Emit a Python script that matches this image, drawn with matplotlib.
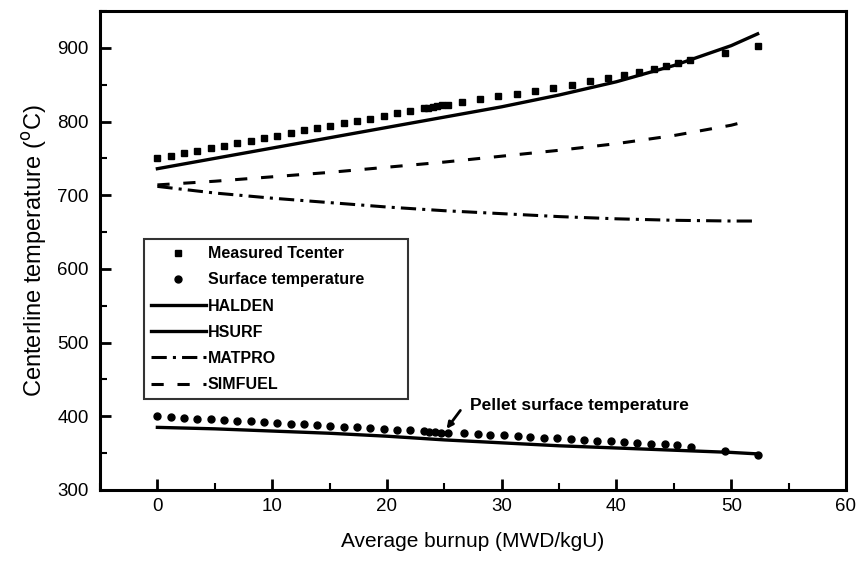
import matplotlib
matplotlib.use("Agg")
import matplotlib.pyplot as plt
from matplotlib.ticker import MultipleLocator

plt.rcParams['font.family'] = ['Liberation Sans', 'DejaVu Sans']

# Measured centerline temperature (squares)
meas_x = [0, 1.16, 2.32, 3.48, 4.64, 5.8, 6.96, 8.12, 9.28, 10.44, 11.6, 12.76,
          13.92, 15.08, 16.24, 17.4, 18.56, 19.72, 20.88, 22.0,
          23.2, 23.6, 24.0, 24.4, 24.8, 25.3,
          26.5, 28.1, 29.7, 31.3, 32.9, 34.5, 36.1, 37.7, 39.3, 40.7, 42.0,
          43.3, 44.3, 45.4, 46.4, 49.5, 52.3]
meas_y = [750, 753, 757, 760, 764, 767, 771, 774, 778, 781, 784, 788,
          791, 794, 798, 801, 804, 808, 811, 814,
          818, 819, 820, 821, 822, 823,
          826, 830, 834, 838, 842, 846, 850, 855, 859, 863, 867,
          871, 875, 879, 883, 893, 903]

# Pellet surface temperature (circles)
surf_x = [0, 1.16, 2.32, 3.48, 4.64, 5.8, 6.96, 8.12, 9.28, 10.44, 11.6, 12.76,
          13.92, 15.08, 16.24, 17.4, 18.56, 19.72, 20.88, 22.0,
          23.2, 23.7, 24.2, 24.7, 25.3,
          26.7, 27.9, 29.0, 30.2, 31.4, 32.5, 33.7, 34.8, 36.0, 37.2, 38.3,
          39.5, 40.7, 41.8, 43.0, 44.2, 45.3, 46.5, 49.5, 52.3]
surf_y = [400, 399, 398, 397, 396, 395, 394, 393, 392, 391, 390, 389,
          388, 387, 386, 385, 384, 383, 382, 381,
          380, 379, 379, 378, 378,
          377, 376, 375, 374, 373, 372, 371, 370, 369, 368, 367,
          366, 365, 364, 363, 362, 361, 359, 353, 348]

# Model curves
halden_x = [0, 5, 10, 15, 20, 25, 30, 35, 40, 45, 50, 52.3]
halden_y = [736, 750, 764, 778, 792, 806, 820, 836, 854, 876, 903, 919]

hsurf_x = [0, 5, 10, 15, 20, 25, 30, 35, 40, 45, 50, 52.3]
hsurf_y = [385, 383, 380, 377, 373, 368, 364, 360, 357, 354, 351, 349]

matpro_x = [0, 5, 10, 15, 20, 25, 30, 35, 40, 45, 50, 52.3]
matpro_y = [712, 703, 696, 690, 684, 679, 675, 671, 668, 666, 665, 665]

simfuel_x = [0, 5, 10, 15, 20, 25, 30, 35, 40, 45, 50, 51.5]
simfuel_y = [714, 719, 725, 731, 738, 745, 753, 761, 770, 781, 795, 801]

x_ticks = [0, 10, 20, 30, 40, 50, 60]
y_ticks = [300, 400, 500, 600, 700, 800, 900]

fig = plt.figure(figsize=(8.59, 5.65), dpi=100)
ax = fig.add_axes([100/859, 1 - 490/565, 746/859, 479/565])

ax.plot(meas_x, meas_y, linestyle='none', marker='s', markersize=4.5,
        color='black', label='Measured Tcenter')
ax.plot(surf_x, surf_y, linestyle='none', marker='o', markersize=5,
        color='black', label='Surface temperature')
ax.plot(halden_x, halden_y, '-', color='black', lw=2.4, label='HALDEN')
ax.plot(hsurf_x, hsurf_y, '-', color='black', lw=2.4, label='HSURF')
ax.plot(matpro_x, matpro_y, color='black', lw=2.2,
        linestyle=(0, (5, 2, 1, 2)), label='MATPRO')
ax.plot(simfuel_x, simfuel_y, color='black', lw=2.2,
        linestyle=(0, (4, 4.5)), label='SIMFUEL')

ax.set_xlim(-5, 60)
ax.set_ylim(300, 950)
ax.set_xticks(x_ticks)
ax.set_yticks(y_ticks)
ax.xaxis.set_minor_locator(MultipleLocator(5))
ax.yaxis.set_minor_locator(MultipleLocator(50))
ax.tick_params(which='major', direction='in', length=8, width=2, labelsize=13.5, pad=8)
ax.tick_params(axis='x', which='major', pad=6)
ax.tick_params(which='minor', direction='in', length=5, width=1.5)
ax.tick_params(top=False, right=False)
for s in ax.spines.values():
    s.set_linewidth(2.2)

ax.set_xlabel('Average burnup (MWD/kgU)', fontsize=15, labelpad=12)
ax.set_ylabel('Centerline temperature ($^{\\rm o}$C)', fontsize=17, labelpad=6)

leg = ax.legend(loc='upper left', bbox_to_anchor=(0.059, 0.19, 0.354, 0.334),
                mode='expand',
                frameon=True, fancybox=False, edgecolor='black', handlelength=3.4,
                labelspacing=0.7, borderpad=0.45, handletextpad=0.15,
                borderaxespad=0,
                prop={'weight': 'bold', 'size': 11.5})
leg.get_frame().set_linewidth(1.5)

ax.text(27.2, 415, 'Pellet surface temperature', fontsize=12.5,
        fontweight='bold', va='center', ha='left')
ax.annotate('', xy=(25.2, 383), xytext=(26.4, 408),
            arrowprops=dict(arrowstyle='-|>', color='black', lw=2,
                            shrinkA=0, shrinkB=0, mutation_scale=9))

fig.savefig('out.png', dpi=100)
